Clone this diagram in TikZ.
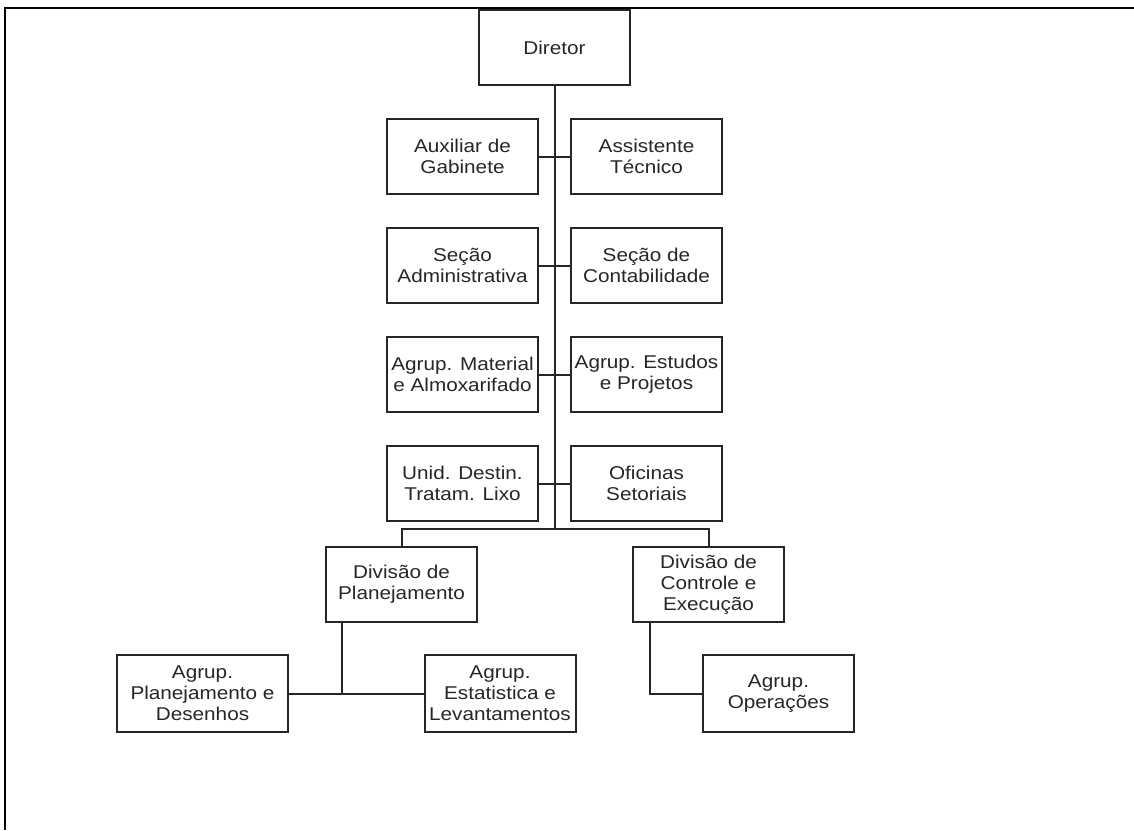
\documentclass[tikz,border=0pt]{standalone}
\usepackage{fontspec}
\setmainfont{Liberation Sans}[FakeStretch=1.12]
\usetikzlibrary{positioning}

\begin{document}
\begin{tikzpicture}[
  x=1pt, y=-1pt,
  node distance=32pt and 31pt,
  box/.style={rectangle,draw=black!85,line width=2pt,align=center,minimum width=151pt,minimum height=75pt,inner sep=1pt,text=black!85,font=\fontsize{18.5}{21}\selectfont},
  link/.style={line width=2pt,black!85}
]
\useasboundingbox (0,0) rectangle (1134,830);
\draw[line width=2.4pt] (1134,8) -- (5,8) -- (5,830);

\node[box] (dir) at (554.5,47.5) {Diretor};
\node[box,anchor=north east] (aux) at ([xshift=-15.5pt,yshift=-32pt]dir.south) {Auxiliar de\\Gabinete};
\node[box,right=of aux] (ast) {Assistente\\Técnico};
\node[box,below=of aux] (adm) {Seção\\Administrativa};
\node[box,below=of ast] (cont) {Seção de\\Contabilidade};
\node[box,below=of adm] (mat) {Agrup. Material\\e Almoxarifado};
\node[box,below=of cont] (est) {Agrup. Estudos\\e Projetos};
\node[box,below=of mat] (lixo) {Unid. Destin.\\Tratam. Lixo};
\node[box,below=of est] (ofi) {Oficinas\\Setoriais};
\coordinate (bus) at (554.5,529);
\node[box,anchor=north] (plan) at (401.5,546) {Divisão de\\Planejamento};
\node[box,anchor=north] (ctl) at (708.5,546) {Divisão de\\Controle e\\Execução};
\node[box,minimum width=171pt,minimum height=77pt] (agp) at (202.5,693.5) {Agrup.\\Planejamento e\\Desenhos};
\node[box,minimum height=77pt] (agest) at (500,693.5) {Agrup.\\Estatistica e\\Levantamentos};
\node[box,minimum height=77pt] (ops) at (778.5,693.5) {Agrup.\\Operações};

\draw[link] (dir) -- (bus);
\draw[link] (aux) -- (ast);
\draw[link] (adm) -- (cont);
\draw[link] (mat) -- (est);
\draw[link] (lixo) -- (ofi);
\draw[link] (plan.north) |- (bus) -| (ctl.north);
\draw[link] ([xshift=-60pt]plan.south) -- ([xshift=-60pt]plan.south |- agp.east);
\draw[link] (agp) -- (agest);
\draw[link] ([xshift=-58.5pt]ctl.south) |- (ops.west);
\end{tikzpicture}
\end{document}
